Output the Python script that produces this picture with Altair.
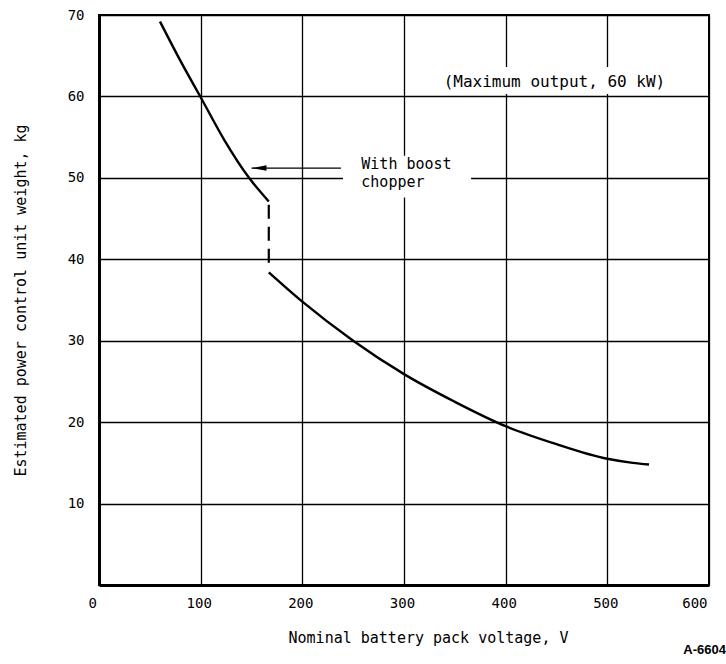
import altair as alt
import pandas as pd

# ---- data ----
upper_v = [60, 80, 100, 123, 147, 167]
upper_w = [69.2, 64.4, 59.9, 54.7, 50.1, 47.1]

lower_v = [167, 200, 250, 300, 350, 400, 450, 500, 525, 541]
lower_w = [38.4, 34.8, 30.0, 25.9, 22.5, 19.5, 17.3, 15.5, 15.0, 14.8]

jump_v = [167, 167]
jump_w = [46.7, 38.8]

x_ticks = [0, 100, 200, 300, 400, 500, 600]
y_ticks = [10, 20, 30, 40, 50, 60, 70]

note_text = ["(Maximum output, 60 kW)"]
note_v = [448]
note_w = [61.8]

boost_lines = ["With boost", "chopper"]
boost_v = [258, 258]
boost_w = [51.7, 49.5]

arrow_v = [150, 238]
arrow_w = [51.2, 51.2]

# white backgrounds behind the labels (they interrupt the grid in the original)
box_v1 = [330, 240]
box_v2 = [570, 366]
box_w1 = [60.3, 47.6]
box_w2 = [63.6, 52.7]

FONT = "DejaVu Sans Mono"

xs = alt.Scale(domain=[0, 600], nice=False, zero=False)
ys = alt.Scale(domain=[0, 70], nice=False, zero=False)

x_axis = alt.Axis(
    values=x_ticks, title="Nominal battery pack voltage, V", grid=True, ticks=False,
    labelPadding=11, labelFont=FONT, labelFontSize=14, labelColor="black",
    labelOffset={"condition": {"test": "datum.value == 0", "value": -11}, "value": -2},
    titleFont=FONT, titleFontSize=15, titleFontWeight="normal", titleColor="black",
    titleX=329, titleY=52, titleAlign="center", titleBaseline="middle",
    domainColor="black", domainWidth=3, gridColor="black", gridWidth=1.3, gridOpacity=1,
)
y_axis = alt.Axis(
    values=y_ticks, title="Estimated power control unit weight, kg", grid=True, ticks=False,
    labelPadding=15, labelFont=FONT, labelFontSize=14, labelColor="black",
    titleFont=FONT, titleFontSize=15, titleFontWeight="normal", titleColor="black",
    titleX=-79, titleY=285, titleAngle=270, titleAlign="center", titleBaseline="middle",
    domainColor="black", domainWidth=3, gridColor="black", gridWidth=1.3, gridOpacity=1,
)

X = alt.X("v:Q", scale=xs, axis=x_axis)
Y = alt.Y("w:Q", scale=ys, axis=y_axis)

upper_df = pd.DataFrame({"v": upper_v, "w": upper_w})
lower_df = pd.DataFrame({"v": lower_v, "w": lower_w})
jump_df = pd.DataFrame({"v": jump_v, "w": jump_w})
box_df = pd.DataFrame({"v": box_v1, "v2": box_v2, "w": box_w1, "w2": box_w2})
note_df = pd.DataFrame({"v": note_v, "w": note_w, "t": note_text})
boost_df = pd.DataFrame({"v": boost_v, "w": boost_w, "t": boost_lines})
arrow_df = pd.DataFrame({"v": arrow_v, "w": arrow_w})
tip_df = pd.DataFrame({"v": arrow_v[:1], "w": arrow_w[:1]})

boxes = alt.Chart(box_df).mark_rect(color="white").encode(
    x=X, x2="v2:Q", y=Y, y2="w2:Q",
)

def line(df, **kw):
    return alt.Chart(df).mark_line(color="black", **kw).encode(x=X, y=Y)

upper = line(upper_df, strokeWidth=2.4, interpolate="monotone")
lower = line(lower_df, strokeWidth=2.4, interpolate="monotone")
jump = line(jump_df, strokeWidth=2.2, strokeDash=[14, 8])
arrow = line(arrow_df, strokeWidth=1.3)

tip = alt.Chart(tip_df).mark_point(
    shape="M0,0L3,-0.55L3,0.55Z", size=100, filled=True, color="black", opacity=1
).encode(x=X, y=Y)

note = alt.Chart(note_df).mark_text(
    font=FONT, fontSize=16, color="black", align="center", baseline="middle"
).encode(x=X, y=Y, text="t:N")

boost = alt.Chart(boost_df).mark_text(
    font=FONT, fontSize=15, color="black", align="left", baseline="middle"
).encode(x=X, y=Y, text="t:N")

figlabel = alt.Chart(pd.DataFrame({"t": ["A-6604"]})).mark_text(
    font="Liberation Sans", fontSize=13, fontWeight="bold", color="black",
    align="right", baseline="middle"
).encode(x=alt.value(627), y=alt.value(635), text="t:N")

chart = alt.layer(
    boxes, upper, lower, jump, arrow, tip, note, boost, figlabel
).properties(
    width=610, height=570,
    background="white",
    autosize=alt.AutoSizeParams(type="none"),
    padding={"left": 99, "top": 15, "right": 17, "bottom": 79},
).configure_view(
    stroke="black", strokeWidth=2
)

chart.save("out.html", embed_options={"renderer": "svg", "actions": False})
